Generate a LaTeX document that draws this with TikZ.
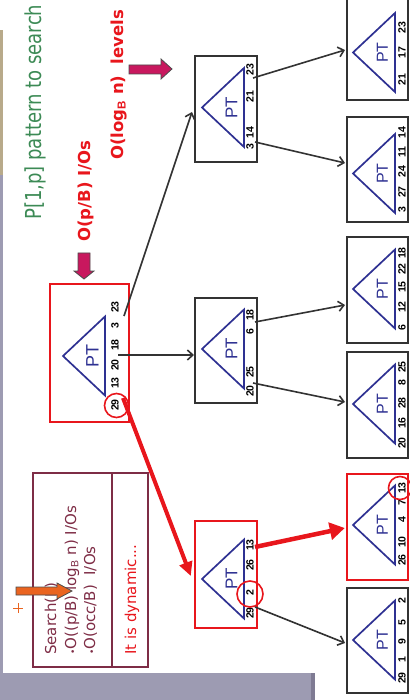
\documentclass[tikz,border=0pt]{standalone}
\usepackage{fontspec}
\setmainfont{Liberation Sans}
\newfontfamily\comic{DejaVu Sans}
\usetikzlibrary{arrows.meta,calc}
\definecolor{ptblue}{HTML}{2E3192}
\definecolor{boxgray}{HTML}{333333}
\definecolor{rred}{HTML}{E8161C}
\definecolor{maroonc}{HTML}{7E2D46}
\definecolor{ggreen}{HTML}{3C8A55}
\definecolor{magen}{HTML}{C8185E}
\definecolor{orng}{HTML}{EA6420}
\definecolor{tanbar}{HTML}{B8AA8A}
\definecolor{lav}{HTML}{9D9BB2}
\definecolor{lavdark}{HTML}{7F7B93}
\newcommand{\ptri}[5]{%
  \draw[tri] (#1,#3) -- (#2,#3-39.5) -- (#2,#3+39.5) -- cycle;
  \node[ptlabel,font=\fontsize{#5}{#5}\selectfont] (#4) at ({#1+0.7*(#2-#1)},#3) {PT};}
\begin{document}
\begin{tikzpicture}[x=1pt,y=-1pt,
  tbox/.style={draw=boxgray,line width=2pt,rectangle,inner sep=0pt},
  rbox/.style={draw=rred,line width=2.4pt,rectangle,inner sep=0pt},
  mbox/.style={draw=maroonc,line width=2pt,rectangle,inner sep=0pt},
  tri/.style={draw=ptblue,line width=1.7pt,line join=miter},
  ptlabel/.style={rotate=90,text=ptblue,inner sep=0pt},
  num/.style={rotate=90,font=\bfseries\fontsize{10.5}{10.5}\selectfont,inner sep=0pt},
  conn/.style={draw=boxgray,line width=1.6pt,-{Straight Barb[length=5.5pt,width=10pt]}},
  hot/.style={draw=rred,line width=4pt,-{Triangle[length=14pt,width=13pt]}},
  ring/.style={draw=rred,line width=1.6pt,circle,inner sep=0pt,minimum size=#1},
  blockarrow/.style={line width=0.8pt,draw=black!70,line join=miter},
  vtext/.style={rotate=90,anchor=base west,inner sep=0pt}
]
\useasboundingbox (0,0) rectangle (409,700);
% slide decorations
\fill[tanbar] (0,30) rectangle (3,175);
\fill[lav] (0,175) rectangle (3,673);
\fill[lav] (0,673) rectangle (311,700);
\fill[lavdark] (311,673) rectangle (315,700);

% titles
\node[vtext,text=ggreen,font=\comic\fontsize{22}{22}\selectfont] (title) at (41,220) {\scalebox{0.82}[1]{P[1,p] pattern to search}};
\node[vtext,text=rred,font=\comic\bfseries\fontsize{16.5}{16.5}\selectfont] (iop) at (90,242) {O(p/B) I/Os};
\node[vtext,text=rred,font=\comic\bfseries\fontsize{16.5}{16.5}\selectfont] (lev) at (123,160) {O(log$_{\mathbf{B}}$ n)\ \ levels};

% block arrows
\filldraw[blockarrow,fill=magen] (129,65) -- (161,65) -- (161,59) -- (172,69) -- (161,79) -- (161,74) -- (129,74) -- cycle;
\filldraw[blockarrow,fill=magen] (78,253) -- (90,253) -- (90,271) -- (94,271) -- (84,279) -- (74,271) -- (78,271) -- cycle;

% tree boxes
\node[rbox,minimum width=79pt,minimum height=138pt] (R) at (89.5,353) {};
\node[tbox,minimum width=62pt,minimum height=106pt] (A) at (226,109) {};
\node[tbox,minimum width=62pt,minimum height=105pt] (B) at (226,350.5) {};
\node[rbox,minimum width=62pt,minimum height=107pt] (C) at (226,574.5) {};
\node[tbox,minimum width=61pt,minimum height=106pt] (b1) at (377.5,47) {};
\node[tbox,minimum width=61pt,minimum height=105pt] (b2) at (377.5,169.5) {};
\node[tbox,minimum width=61pt,minimum height=106pt] (b3) at (377.5,290) {};
\node[tbox,minimum width=61pt,minimum height=106pt] (b4) at (377.5,405) {};
\node[rbox,minimum width=61pt,minimum height=106pt] (b5) at (377.5,527) {};
\node[tbox,minimum width=61pt,minimum height=105pt] (b6) at (377.5,640.5) {};

% triangles
\ptri{63}{105}{356}{ptR}{18}
\ptri{202}{244}{107.5}{ptA}{17}
\ptri{202}{244}{349}{ptB}{17}
\ptri{202}{244}{579}{ptC}{17}
\ptri{353}{395}{52.5}{pt1}{16}
\ptri{353}{395}{173.5}{pt2}{16}
\ptri{353}{395}{289}{pt3}{16}
\ptri{353}{395}{404}{pt4}{16}
\ptri{353}{395}{525}{pt5}{16}
\ptri{353}{395}{640}{pt6}{16}

% numbers
\foreach \v/\y in {23/307,3/326,18/345,20/365,13/383,29/405} \node[num] (nR\y) at (115,\y) {\v};
\foreach \v/\y in {23/70,21/97,14/133,3/147} \node[num] (nA\y) at (250,\y) {\v};
\foreach \v/\y in {18/315,6/332,25/372,20/391} \node[num] (nB\y) at (250,\y) {\v};
\foreach \v/\y in {13/545,26/565,2/593,29/613} \node[num] (nC\y) at (250,\y) {\v};
\foreach \v/\y in {23/28,17/53,21/80} \node[num] (n1\y) at (402,\y) {\v};
\foreach \v/\y in {14/133,11/152,24/172,27/192,3/210} \node[num] (n2\y) at (402,\y) {\v};
\foreach \v/\y in {18/253,22/269,15/287,12/307,6/328} \node[num] (n3\y) at (402,\y) {\v};
\foreach \v/\y in {25/367,8/383,28/403,16/423,20/443} \node[num] (n4\y) at (402,\y) {\v};
\foreach \v/\y in {13/488,7/503,4/520,10/542,26/560} \node[num] (n5\y) at (402,\y) {\v};
\foreach \v/\y in {2/601,5/623,9/642,1/660,29/678} \node[num] (n6\y) at (402,\y) {\v};

% rings
\node[ring=24pt] (c1) at (116.5,405.5) {};
\node[ring=26pt] (c2) at (250,594) {};
\node[ring=23pt] (c3) at (400,488) {};

% connector start points
\coordinate (rA) at (124,316);
\coordinate (rB) at (118,355);
\coordinate (rC) at (123,398);
\coordinate (aA) at (253,78);
\coordinate (aB) at (255,142);
\coordinate (bA) at (255,322);
\coordinate (bB) at (253,383);
\coordinate (cA) at (255,547);
\coordinate (cB) at (255,607);

% connectors
\draw[conn] (rA) -- ($(A.west)+(-2,3)$);
\draw[conn] (rB) -- (rB -| B.west);
\draw[hot] (rC) -- ($(C.west)+(-3,1.5)$);
\draw[conn] (aA) -- ($(b1.west)+(-1,3)$);
\draw[conn] (aB) -- ($(b2.west)+(-1,-6.5)$);
\draw[conn] (bA) -- ($(b3.west)+(-1,15)$);
\draw[conn] (bB) -- ($(b4.west)+(-1,-3)$);
\draw[hot,line width=4.5pt,-{Triangle[length=15pt,width=17pt]}] (cA) -- ($(b5.west)+(-1,1)$);
\draw[conn] (cB) -- ($(b6.west)+(-1,2.5)$);

% left info boxes
\node[mbox,minimum width=79pt,minimum height=194pt] (S) at (72.5,570) {};
\node[mbox,minimum width=36pt,minimum height=194pt] (D) at (130,570) {};
\node[vtext,text=maroonc,font=\comic\fontsize{15}{15}\selectfont] (s1) at (56,655) {Search(P)};
\node[vtext,text=maroonc,font=\comic\fontsize{15}{15}\selectfont] (s2) at (76,655) {{\fontsize{9}{9}\selectfont •}O((p/B) log$_{\mathrm{B}}$ n) I/Os};
\node[vtext,text=maroonc,font=\comic\fontsize{15}{15}\selectfont] (s3) at (95,655) {{\fontsize{9}{9}\selectfont •}O(occ/B)\ \ I/Os};
\node[vtext,text=rred,font=\comic\fontsize{15}{15}\selectfont] (dyn) at (136,655) {It is dynamic...};

% orange arrow and plus
\filldraw[blockarrow,fill=orng] (16,587) -- (57,587) -- (57,583) -- (72,591) -- (57,599) -- (57,595) -- (16,595) -- cycle;
\draw[orng,line width=1pt] (13,608) -- (23,608) (18,603) -- (18,613);
\end{tikzpicture}
\end{document}
